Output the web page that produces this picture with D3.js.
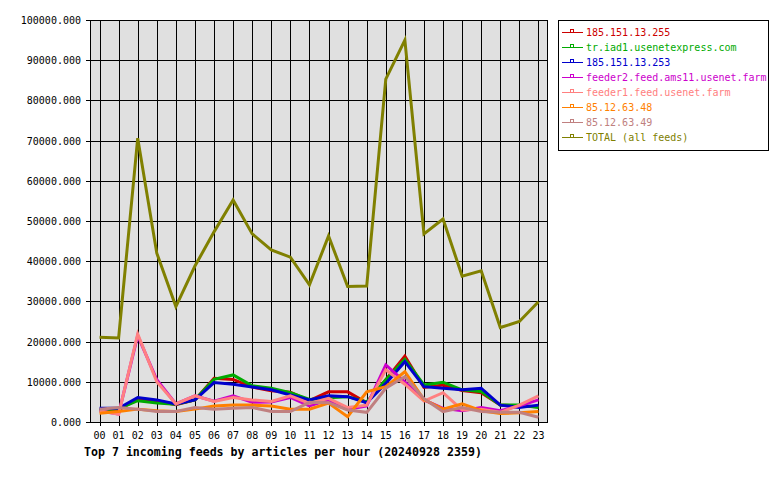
<!DOCTYPE html>
<html>
<head>
<meta charset="utf-8">
<script src="https://cdn.jsdelivr.net/npm/d3@7"></script>
<style>
  body { margin: 0; background: #fff; }
  text { font-family: "DejaVu Sans Mono", monospace; }
</style>
</head>
<body>
<div id="chart"></div>
<script>
// hours on the x axis
var hours = ["00","01","02","03","04","05","06","07","08","09","10","11",
             "12","13","14","15","16","17","18","19","20","21","22","23"];

// articles per hour, one array per feed
var feed255   = [3000,3000,5800,5200,4300,5500,10900,10600,8700,7800,7400,5300,7500,7500,4800,10500,16400,8600,9200,7800,7300,4200,4000,3800];
var feedIad1  = [3000,3300,5300,4700,4400,5500,10600,11700,9000,8400,7300,5600,6000,6300,5000,10500,15600,9200,9900,8000,7600,4200,4200,3600];
var feed253   = [3400,3400,6100,5500,4500,5500,9800,9400,8700,8000,6700,5500,6500,6300,4800,9600,15000,8800,8400,8000,8400,4200,3600,4200];
var feeder2   = [2800,2000,21500,10500,4500,6500,5200,6500,4900,5000,6100,4000,5500,3100,4000,14200,10000,5500,3400,2800,3600,2800,4000,5500];
var feeder1   = [2800,1900,21900,10000,4500,6500,5100,6100,5500,5100,6500,4600,5900,3600,4200,13000,9400,5200,7300,3000,3200,2400,4200,6500];
var feed48    = [2200,2600,3200,2800,2600,3200,4000,4200,4200,4000,3200,3200,4700,1300,7500,8800,12500,5600,3200,4500,2800,2100,2300,2600];
var feed49    = [3200,3600,3200,2600,2600,3600,3200,3400,3600,2600,2600,4900,4800,3000,2400,8400,11300,5800,2600,3600,2600,2400,2400,1200];
var totalAll  = [21100,20900,70600,42000,28700,38800,47300,55200,46800,42800,41000,34100,46300,33700,33800,85300,95000,46800,50500,36300,37600,23500,25000,29900];

var names  = ["185.151.13.255","tr.iad1.usenetexpress.com","185.151.13.253",
              "feeder2.feed.ams11.usenet.farm","feeder1.feed.usenet.farm",
              "85.12.63.48","85.12.63.49","TOTAL (all feeds)"];
var colors = ["#cc0000","#00aa00","#0000cc","#cc00cc","#ff8080","#ff8000","#c08080","#808000"];
var yTicks = [0,10000,20000,30000,40000,50000,60000,70000,80000,90000,100000];

var series = [feed255, feedIad1, feed253, feeder2, feeder1, feed48, feed49, totalAll];

var W = 780, H = 480;
var plot = {left: 90, right: 548, top: 20, bottom: 422};

var svg = d3.select("#chart").append("svg")
    .attr("width", W).attr("height", H);

// x and y scales
var x = d3.scalePoint().domain(hours).range([plot.left, plot.right]).padding(0.5);
var y = d3.scaleLinear().domain([0, 100000]).range([plot.bottom, plot.top]);

// grey plot background
svg.append("rect")
    .attr("x", plot.left).attr("y", plot.top)
    .attr("width", plot.right - plot.left).attr("height", plot.bottom - plot.top)
    .attr("fill", "#e0e0e0");

// grid
var grid = svg.append("g").attr("shape-rendering", "crispEdges")
    .attr("stroke", "#000").attr("stroke-width", 1);
grid.selectAll("line.v").data(hours).enter().append("line")
    .attr("x1", function(d){ return Math.round(x(d)) + 0.5; })
    .attr("x2", function(d){ return Math.round(x(d)) + 0.5; })
    .attr("y1", plot.top).attr("y2", plot.bottom + 4);
grid.selectAll("line.h").data(yTicks).enter().append("line")
    .attr("x1", plot.left - 4).attr("x2", plot.right)
    .attr("y1", function(d){ return Math.round(y(d)) + 0.5; })
    .attr("y2", function(d){ return Math.round(y(d)) + 0.5; });
// border
grid.append("rect")
    .attr("x", plot.left + 0.5).attr("y", plot.top + 0.5)
    .attr("width", plot.right - plot.left - 1).attr("height", plot.bottom - plot.top)
    .attr("fill", "none");

// y axis labels
svg.append("g").selectAll("text").data(yTicks).enter().append("text")
    .attr("x", 81).attr("y", function(d){ return y(d) + 4; })
    .attr("text-anchor", "end").attr("font-size", "10px").attr("fill", "#000")
    .text(function(d){ return d3.format(".3f")(d); });

// x axis labels
svg.append("g").selectAll("text").data(hours).enter().append("text")
    .attr("x", function(d){ return x(d); }).attr("y", 439)
    .attr("text-anchor", "middle").attr("font-size", "10px").attr("fill", "#000")
    .text(function(d){ return d; });

// lines, drawn in legend order
var line = d3.line()
    .x(function(d, i){ return x(hours[i]); })
    .y(function(d){ return y(d); });

svg.append("g").selectAll("path").data(series).enter().append("path")
    .attr("d", line)
    .attr("fill", "none")
    .attr("stroke", function(d, i){ return colors[i]; })
    .attr("stroke-width", 3)
    .attr("stroke-linejoin", "miter");

// title
svg.append("text")
    .attr("x", 84).attr("y", 456)
    .attr("font-size", "11.6px").attr("font-weight", "bold").attr("fill", "#000")
    .text("Top 7 incoming feeds by articles per hour (20240928 2359)");

// legend
var lg = svg.append("g");
lg.append("rect")
    .attr("x", 558.5).attr("y", 20.5).attr("width", 210).attr("height", 130)
    .attr("fill", "#fff").attr("stroke", "#000").attr("shape-rendering", "crispEdges");
var row = lg.selectAll("g.row").data(names).enter().append("g")
    .attr("transform", function(d, i){ return "translate(0," + (32 + i * 15) + ")"; });
row.append("line")
    .attr("x1", 562).attr("x2", 583).attr("y1", 0.5).attr("y2", 0.5)
    .attr("stroke", function(d, i){ return colors[i]; })
    .attr("shape-rendering", "crispEdges");
row.append("rect")
    .attr("x", 570.5).attr("y", -2.5).attr("width", 3).attr("height", 3)
    .attr("fill", "#fff")
    .attr("stroke", function(d, i){ return colors[i]; })
    .attr("shape-rendering", "crispEdges");
row.append("text")
    .attr("x", 586).attr("y", 4)
    .attr("font-size", "10px")
    .attr("fill", function(d, i){ return colors[i]; })
    .text(function(d){ return d; });
</script>
</body>
</html>
